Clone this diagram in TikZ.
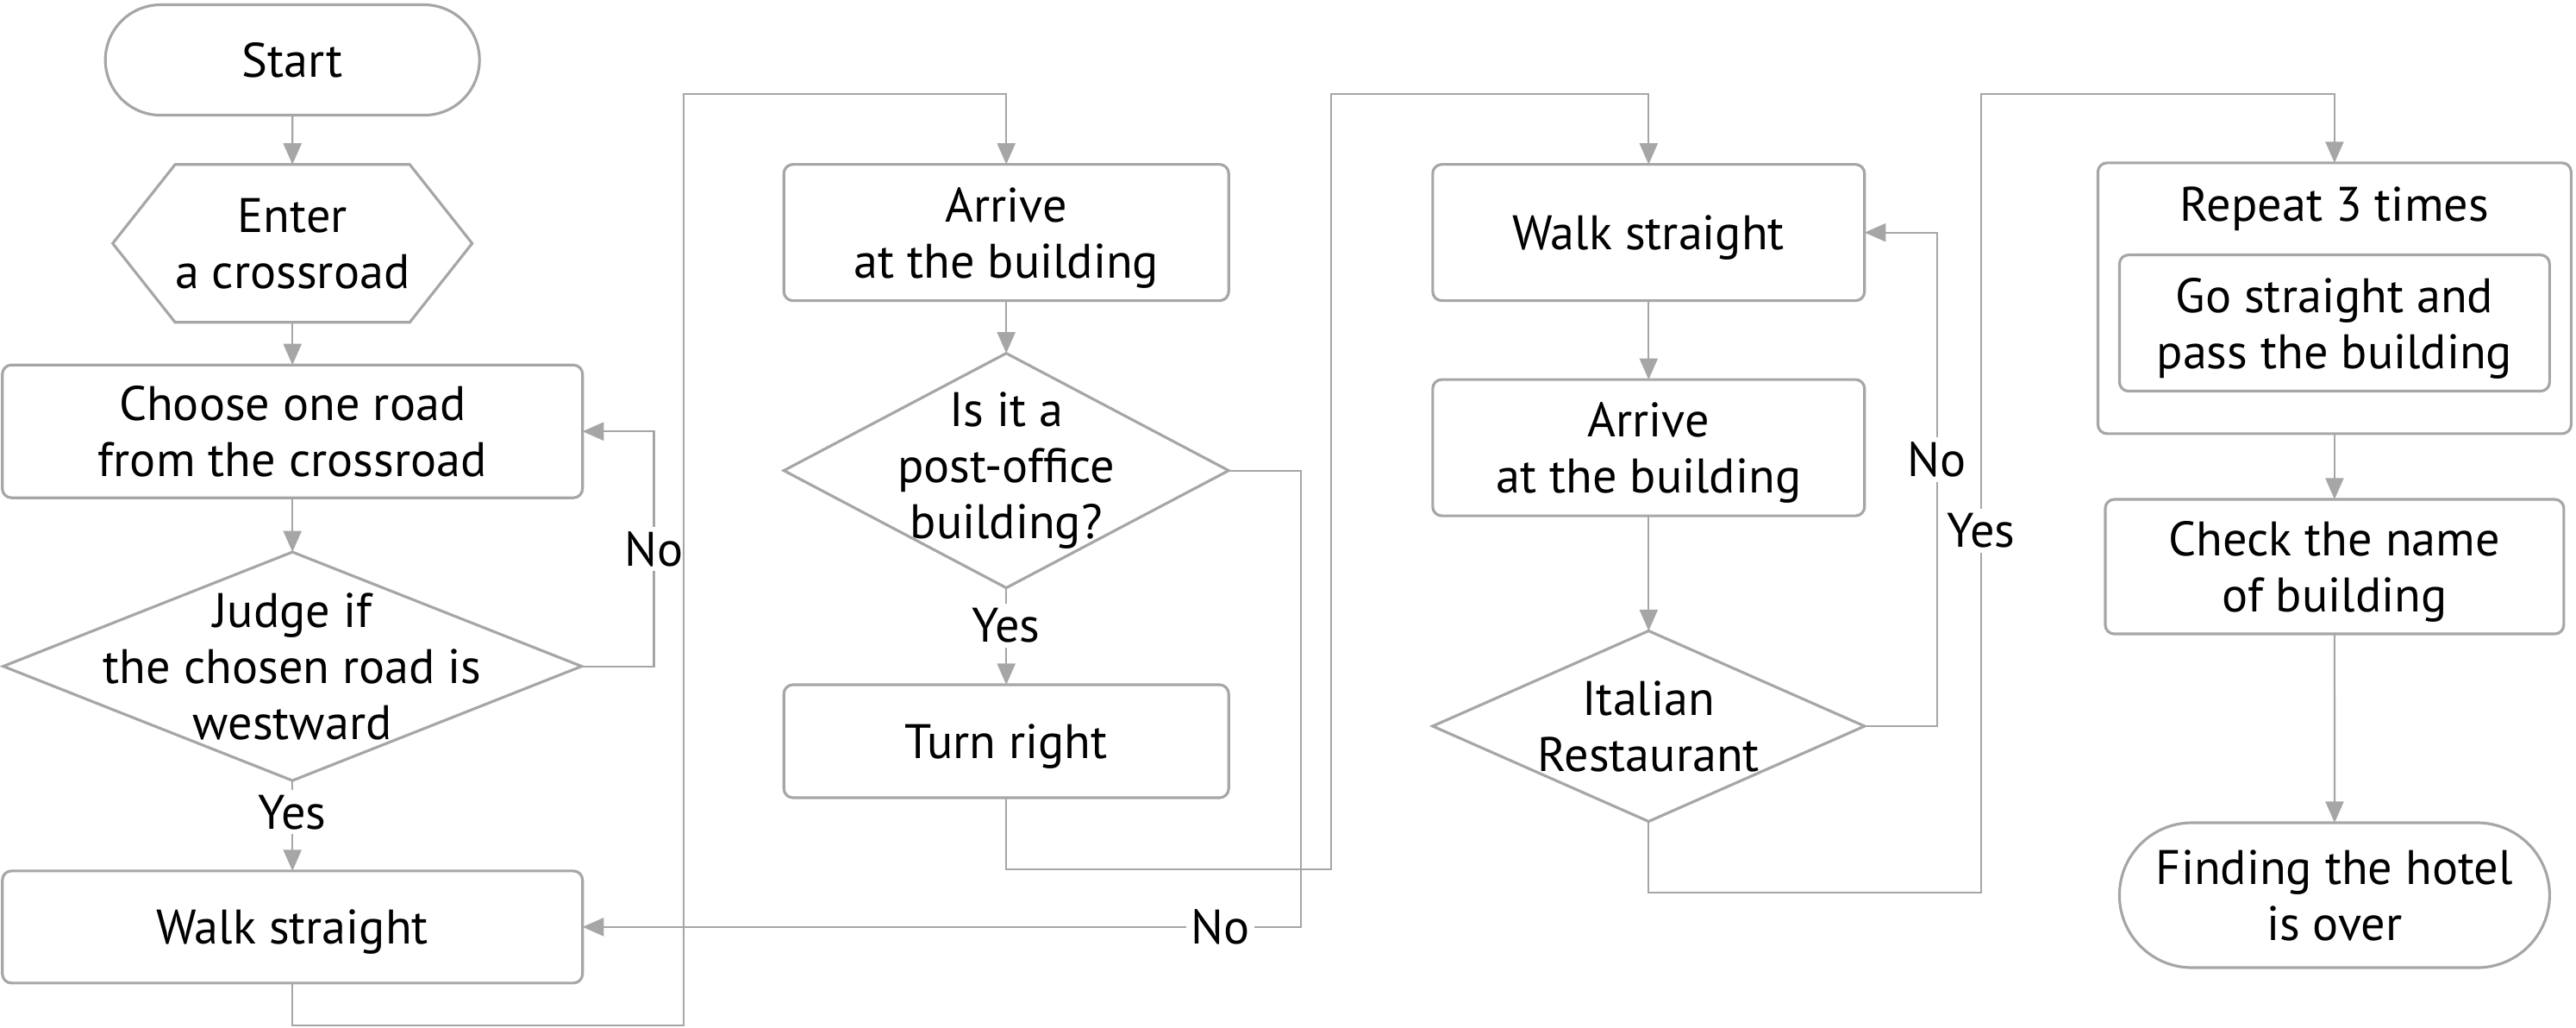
\documentclass[tikz,border=0pt]{standalone}
\usepackage{fontspec}
\setmainfont{PT Sans}
\usepackage{tikz}
\usetikzlibrary{arrows.meta,shapes.misc,positioning}
\definecolor{flowgray}{RGB}{166,166,166}

\begin{document}
\begin{tikzpicture}[->,>={Triangle[length=7pt,width=6pt]},x=0.019056cm,y=-0.019056cm,font=\fontsize{16}{18.5}\selectfont]
		\tikzstyle{box}=[draw=flowgray,line width=0.9pt,rectangle,rounded corners=3pt,align=center,inner sep=0pt,outer sep=0pt,text depth=0pt]
		\tikzstyle{term}=[draw=flowgray,line width=0.9pt,rounded rectangle,align=center,inner sep=0pt,outer sep=0pt,text depth=0pt]
		\tikzstyle{blank}=[rectangle,align=center,inner sep=0pt,outer sep=0pt]
		\tikzstyle{outline}=[-,draw=flowgray,line width=0.9pt]
		\tikzstyle{flow}=[draw=flowgray,line width=0.6pt]
		\tikzstyle{tag}=[fill=white,inner sep=1.5pt,text=black]

		\useasboundingbox (0,0) rectangle (1568,625);

		\node[term,minimum width=4.34cm,minimum height=1.28cm] (Start) at (178,36.5) {Start};
		\node[blank,minimum width=4.17cm,minimum height=1.83cm] (Enter) [below=0.572cm of Start] {Enter\\a crossroad};
		\draw[outline] (Enter.west) -- ([xshift=0.724cm]Enter.north west) -- ([xshift=-0.724cm]Enter.north east) -- (Enter.east) -- ([xshift=-0.724cm]Enter.south east) -- ([xshift=0.724cm]Enter.south west) -- cycle;
		\node[box,minimum width=6.73cm,minimum height=1.54cm] (Choose) [below=0.495cm of Enter] {Choose one road\\from the crossroad};
		\node[blank,minimum width=6.71cm,minimum height=2.65cm] (Judge) [below=0.629cm of Choose] {Judge if\\the chosen road is\\westward};
		\draw[outline] (Judge.north) -- (Judge.east) -- (Judge.south) -- (Judge.west) -- cycle;
		\node[box,minimum width=6.73cm,minimum height=1.30cm] (WalkA) [below=1.048cm of Judge] {Walk straight};

		\node[box,minimum width=5.16cm,minimum height=1.58cm] (ArriveA) at (612.5,141.5) {Arrive\\at the building};
		\node[blank,minimum width=5.16cm,minimum height=2.72cm] (Post) [below=0.61cm of ArriveA] {Is it a\\post-office\\building?};
		\draw[outline] (Post.north) -- (Post.east) -- (Post.south) -- (Post.west) -- cycle;
		\node[box,minimum width=5.16cm,minimum height=1.31cm] (Turn) [below=1.124cm of Post] {Turn right};

		\node[box,minimum width=5.01cm,minimum height=1.58cm] (WalkB) at (1003.5,141.5) {Walk straight};
		\node[box,minimum width=5.01cm,minimum height=1.58cm] (ArriveB) [below=0.915cm of WalkB] {Arrive\\at the building};
		\node[blank,minimum width=5.01cm,minimum height=2.21cm] (Ital) [below=1.334cm of ArriveB] {Italian\\Restaurant};
		\draw[outline] (Ital.north) -- (Ital.east) -- (Ital.south) -- (Ital.west) -- cycle;

		\node[box,minimum width=5.49cm,minimum height=3.14cm] (Rep) at (1421,181.5) {};
		\node (RepTitle) at ([yshift=-0.53cm]Rep.north) {Repeat 3 times};
		\node[box,minimum width=4.99cm,minimum height=1.58cm] (Pass) [below=1.067cm of Rep.north] {Go straight and\\pass the building};
		\node[box,minimum width=5.32cm,minimum height=1.56cm] (Check) [below=0.762cm of Rep] {Check the name\\of building};
		\node[term,minimum width=4.99cm,minimum height=1.68cm] (Fin) [below=2.19cm of Check] {Finding the hotel\\is over};

		\path (Start) edge[flow] (Enter);
		\path (Enter) edge[flow] (Choose);
		\path (Choose) edge[flow] (Judge);
		\draw[flow] (Judge.east) -- ++(44,0) |- node[tag,pos=0.25] {No} (Choose.east);
		\path (Judge) edge[flow] node[tag,pos=0.35] {Yes} (WalkA);
		\draw[flow] (WalkA.south) |- (416,624) -- (416,57) -| (ArriveA.north);

		\path (ArriveA) edge[flow] (Post);
		\draw[flow] (Post.east) -- ++(44,0) |- node[tag,pos=0.556] {No} (WalkA.east);
		\path (Post) edge[flow] node[tag,pos=0.39] {Yes} (Turn);
		\draw[flow] (Turn.south) |- (810,529) -- (810,57) -| (WalkB.north);

		\path (WalkB) edge[flow] (ArriveB);
		\path (ArriveB) edge[flow] (Ital);
		\draw[flow] (Ital.east) -- ++(44,0) |- node[tag,pos=0.27] {No} (WalkB.east);
		\draw[flow] (Ital.south) |- (1206,543) -- node[tag,pos=0.453] {Yes} (1206,57) -| (Rep.north);

		\path (Rep) edge[flow] (Check);
		\path (Check) edge[flow] (Fin);
	\end{tikzpicture}
\end{document}
